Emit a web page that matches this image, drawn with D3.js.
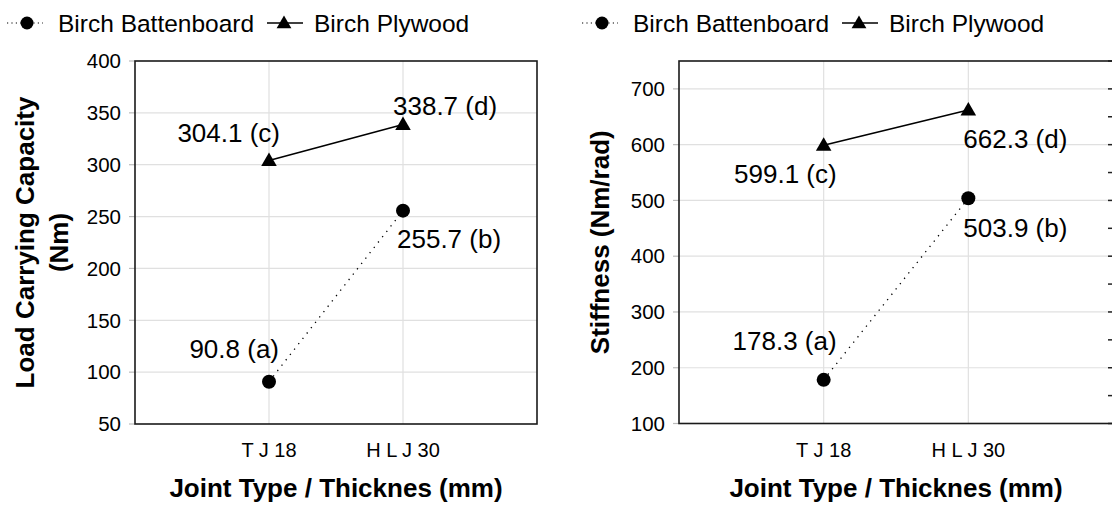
<!DOCTYPE html>
<html>
<head>
<meta charset="utf-8">
<script src="https://cdn.jsdelivr.net/npm/d3@7"></script>
<style>
  html, body { margin: 0; padding: 0; background: #fff; }
  svg { display: block; }
  text { font-family: Arial, "Liberation Sans", sans-serif; fill: #000; }
</style>
</head>
<body>
<svg id="chart" width="1112" height="506"></svg>
<script>
// ---------------- data ----------------
const categories = ["T J 18", "H L J 30"];
const seriesNames = ["Birch Battenboard", "Birch Plywood"];
const loadBattenboard = [90.8, 255.7];
const loadPlywood = [304.1, 338.7];
const stiffBattenboard = [178.3, 503.9];
const stiffPlywood = [599.1, 662.3];
const battenLetters = ["(a)", "(b)"];
const plywoodLetters = ["(c)", "(d)"];
const loadTicks = [50, 100, 150, 200, 250, 300, 350, 400];
const stiffTicks = [100, 200, 300, 400, 500, 600, 700];
const stiffMinorTicks = [100, 150, 200, 250, 300, 350, 400, 450, 500, 550, 600, 650, 700, 750];
const loadTitle = ["Load Carrying Capacity", "(Nm)"];
const stiffTitle = ["Stiffness (Nm/rad)"];
const xTitle = "Joint Type / Thicknes (mm)";

const svg = d3.select("#chart");

function drawLegend(x0) {
  const g = svg.append("g").attr("transform", `translate(${x0},0)`);
  const cy = 23;
  // battenboard: dotted line + circle
  g.append("line").attr("x1", 0).attr("x2", 36).attr("y1", cy).attr("y2", cy)
    .attr("stroke", "#000").attr("stroke-width", 1.2).attr("stroke-dasharray", "1.2,3.2");
  g.append("circle").attr("cx", 20).attr("cy", cy).attr("r", 6.5).attr("fill", "#000");
  g.append("text").attr("x", 51).attr("y", 31.5).style("font-size", "24.5px").text(seriesNames[0]);
  // plywood: solid line + triangle
  g.append("line").attr("x1", 260).attr("x2", 296).attr("y1", cy).attr("y2", cy)
    .attr("stroke", "#000").attr("stroke-width", 1.5);
  g.append("path").attr("d", d3.symbol(d3.symbolTriangle, 95)())
    .attr("transform", `translate(277,${cy + 1})`).attr("fill", "#000");
  g.append("text").attr("x", 307).attr("y", 31.5).style("font-size", "24.5px").text(seriesNames[1]);
}

function drawChart(opt) {
  const { left, right, top, bottom, domain, ticks, minorRight, batten, ply, titleLines, titleX, titleGap, labelOffsets } = opt;
  const x = d3.scalePoint().domain(categories).range([left, right]).padding(1);
  const y = d3.scaleLinear().domain(domain).range([bottom, top]);
  const g = svg.append("g");

  // horizontal gridlines + outward ticks
  g.selectAll(".hg").data(ticks.filter(t => t > domain[0] && t < domain[1])).enter().append("line")
    .attr("x1", left).attr("x2", right).attr("y1", d => y(d)).attr("y2", d => y(d))
    .attr("stroke", "#e0e0e0").attr("stroke-width", 1.2);
  g.selectAll(".yt").data(ticks).enter().append("line")
    .attr("x1", left - 6).attr("x2", left).attr("y1", d => y(d)).attr("y2", d => y(d))
    .attr("stroke", "#bbb").attr("stroke-width", 1.2);
  // vertical gridlines
  g.selectAll(".vg").data(categories).enter().append("line")
    .attr("x1", d => x(d)).attr("x2", d => x(d)).attr("y1", top).attr("y2", bottom)
    .attr("stroke", "#e0e0e0").attr("stroke-width", 1.2);

  // right minor ticks
  if (minorRight) {
    g.selectAll(".rt").data(minorRight).enter().append("line")
      .attr("x1", right - 5).attr("x2", right).attr("y1", d => y(d)).attr("y2", d => y(d))
      .attr("stroke", "#222").attr("stroke-width", 1.5);
  }

  // frame
  g.append("rect").attr("x", left).attr("y", top).attr("width", right - left).attr("height", bottom - top)
    .attr("fill", "none").attr("stroke", "#1a1a1a").attr("stroke-width", 1.6);

  // y tick labels
  g.selectAll(".yl").data(ticks).enter().append("text")
    .attr("x", left - 14).attr("y", d => y(d) + 7.3).attr("text-anchor", "end")
    .style("font-size", "20.5px").text(d => d);

  // x tick labels
  g.selectAll(".xl").data(categories).enter().append("text")
    .attr("x", d => x(d)).attr("y", 457).attr("text-anchor", "middle")
    .style("font-size", "20px").text(d => d);

  // x title
  g.append("text").attr("x", (left + right) / 2).attr("y", 497).attr("text-anchor", "middle")
    .style("font-size", "26px").style("font-weight", "bold").text(xTitle);

  // y title
  const cy = (top + bottom) / 2;
  titleLines.forEach((t, i) => {
    g.append("text")
      .attr("transform", `translate(${titleX + i * titleGap},${cy}) rotate(-90)`)
      .attr("text-anchor", "middle")
      .style("font-size", "26px").style("font-weight", "bold").text(t);
  });

  const line = d3.line().x((d, i) => x(categories[i])).y(d => y(d));
  // battenboard dotted
  g.append("path").datum(batten).attr("d", line).attr("fill", "none")
    .attr("stroke", "#000").attr("stroke-width", 1.3).attr("stroke-dasharray", "1.3,5.5");
  // plywood solid
  g.append("path").datum(ply).attr("d", line).attr("fill", "none")
    .attr("stroke", "#000").attr("stroke-width", 1.6);

  g.selectAll(".pc").data(batten).enter().append("circle")
    .attr("cx", (d, i) => x(categories[i])).attr("cy", d => y(d)).attr("r", 7).attr("fill", "#000");
  g.selectAll(".pt").data(ply).enter().append("path")
    .attr("d", d3.symbol(d3.symbolTriangle, 105)())
    .attr("transform", (d, i) => `translate(${x(categories[i])},${y(d) + 1})`).attr("fill", "#000");

  // value labels
  const labels = [];
  batten.forEach((v, i) => labels.push({ v, text: `${v.toFixed(1)} ${battenLetters[i]}`, i, off: labelOffsets.batten[i] }));
  ply.forEach((v, i) => labels.push({ v, text: `${v.toFixed(1)} ${plywoodLetters[i]}`, i, off: labelOffsets.ply[i] }));
  g.selectAll(".vl").data(labels).enter().append("text")
    .attr("x", d => x(categories[d.i]) + d.off[0])
    .attr("y", d => y(d.v) + d.off[1])
    .attr("text-anchor", d => d.off[2])
    .style("font-size", "26px").text(d => d.text);
}

drawLegend(7);
drawLegend(582);

drawChart({
  left: 135, right: 537, top: 61, bottom: 424,
  domain: [50, 400], ticks: loadTicks, minorRight: null,
  batten: loadBattenboard, ply: loadPlywood,
  titleLines: loadTitle, titleX: 34, titleGap: 34,
  labelOffsets: {
    batten: [[10, -24, "end"], [-6, 37, "start"]],
    ply: [[11, -18, "end"], [-10, -10, "start"]]
  }
});

drawChart({
  left: 679, right: 1113, top: 61, bottom: 423.5,
  domain: [100, 750], ticks: stiffTicks, minorRight: stiffMinorTicks,
  batten: stiffBattenboard, ply: stiffPlywood,
  titleLines: stiffTitle, titleX: 609, titleGap: 0,
  labelOffsets: {
    batten: [[13, -30, "end"], [-5, 39, "start"]],
    ply: [[13, 38, "end"], [-5, 38, "start"]]
  }
});
</script>
</body>
</html>
